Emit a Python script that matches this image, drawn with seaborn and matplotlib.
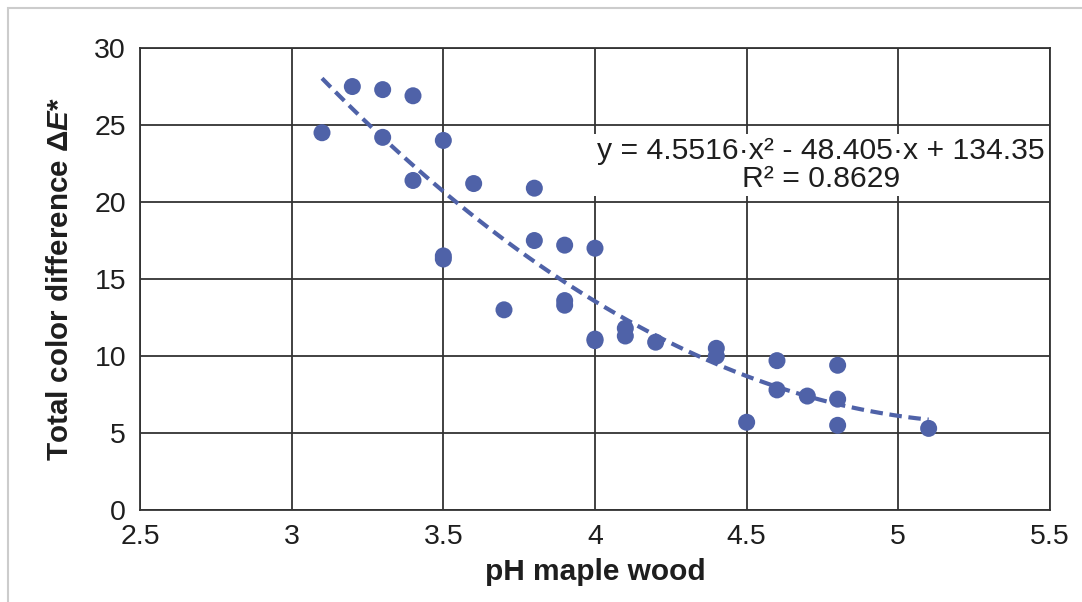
import matplotlib
matplotlib.use("Agg")
import matplotlib.pyplot as plt
import seaborn as sns
import numpy as np
import pandas as pd
from matplotlib.patches import Rectangle

# pH of maple wood and total colour difference
ph = [3.1, 3.2, 3.3, 3.3, 3.4, 3.4, 3.5, 3.5, 3.5, 3.6, 3.7, 3.8, 3.8,
      3.9, 3.9, 3.9, 4.0, 4.0, 4.0, 4.1, 4.1, 4.2, 4.4, 4.4, 4.5, 4.6,
      4.6, 4.7, 4.8, 4.8, 4.8, 5.1]
delta_e = [24.5, 27.5, 27.3, 24.2, 26.9, 21.4, 24.0, 16.5, 16.3, 21.2, 13.0, 20.9, 17.5,
           17.2, 13.6, 13.3, 17.0, 11.1, 11.0, 11.8, 11.3, 10.9, 10.5, 10.0, 5.7, 9.7,
           7.8, 7.4, 9.4, 7.2, 5.5, 5.3]

# polynomial trend line coefficients (a*x^2 + b*x + c) and its range
fit_coef = [4.5516, -48.405, 134.35]
fit_range = [3.1, 5.1]

x_ticks = [2.5, 3, 3.5, 4, 4.5, 5, 5.5]
y_ticks = [0, 5, 10, 15, 20, 25, 30]

df = pd.DataFrame({"pH": ph, "dE": delta_e})

sns.set_style("white")
plt.rcParams["font.family"] = ["Liberation Sans", "DejaVu Sans"]
plt.rcParams["mathtext.fontset"] = "custom"
plt.rcParams["mathtext.rm"] = "Liberation Sans:bold"
plt.rcParams["mathtext.it"] = "Liberation Sans:bold:italic"

dot_color = "#4F62A8"
line_color = "#333333"
text_color = "#1e1e1e"

fig = plt.figure(figsize=(10.82, 6.02), dpi=100)
ax = fig.add_axes([0.1294, 0.1528, 0.841, 0.7674])

# light outer frame
fig.patches.append(Rectangle((8 / 1082, -0.1), 1.2, (594 / 602) + 0.1, transform=fig.transFigure,
                             fill=False, edgecolor="#cccccc", linewidth=1.5))

# trend line
xs = np.linspace(fit_range[0], fit_range[1], 100)
ys = np.polyval(fit_coef, xs)
ax.plot(xs, ys, linestyle=(0, (3, 1.6)), color=dot_color, linewidth=3, zorder=3)

sns.scatterplot(data=df, x="pH", y="dE", ax=ax, color=dot_color, s=150,
                edgecolor="none", zorder=4)

ax.set_xlim(2.5, 5.5)
ax.set_ylim(0, 30)
ax.set_xticks(x_ticks)
ax.set_xticklabels([f"{t:g}" for t in x_ticks])
ax.set_yticks(y_ticks)
ax.grid(True, color=line_color, linewidth=1.3)
ax.set_axisbelow(True)
for sp in ax.spines.values():
    sp.set_color(line_color)
    sp.set_linewidth(1.3)
ax.tick_params(axis="y", length=0, labelsize=20.5, colors=text_color, pad=10)
ax.tick_params(axis="x", length=0, labelsize=20.5, colors=text_color, pad=10)

ax.set_xlabel("pH maple wood", fontsize=21.5, fontweight="bold", color=text_color, labelpad=6)
ax.set_ylabel(r"Total color difference $\Delta\mathit{E}$*", fontsize=21.3,
              fontweight="bold", color=text_color, labelpad=15)

ax.text(4.745, 22.4, "y = 4.5516·x² - 48.405·x + 134.35\nR² = 0.8629",
        ha="center", va="center", fontsize=21.7, color=text_color, linespacing=1.0,
        bbox=dict(facecolor="white", edgecolor="none", pad=2), zorder=5)

fig.savefig("out.png", dpi=100)
